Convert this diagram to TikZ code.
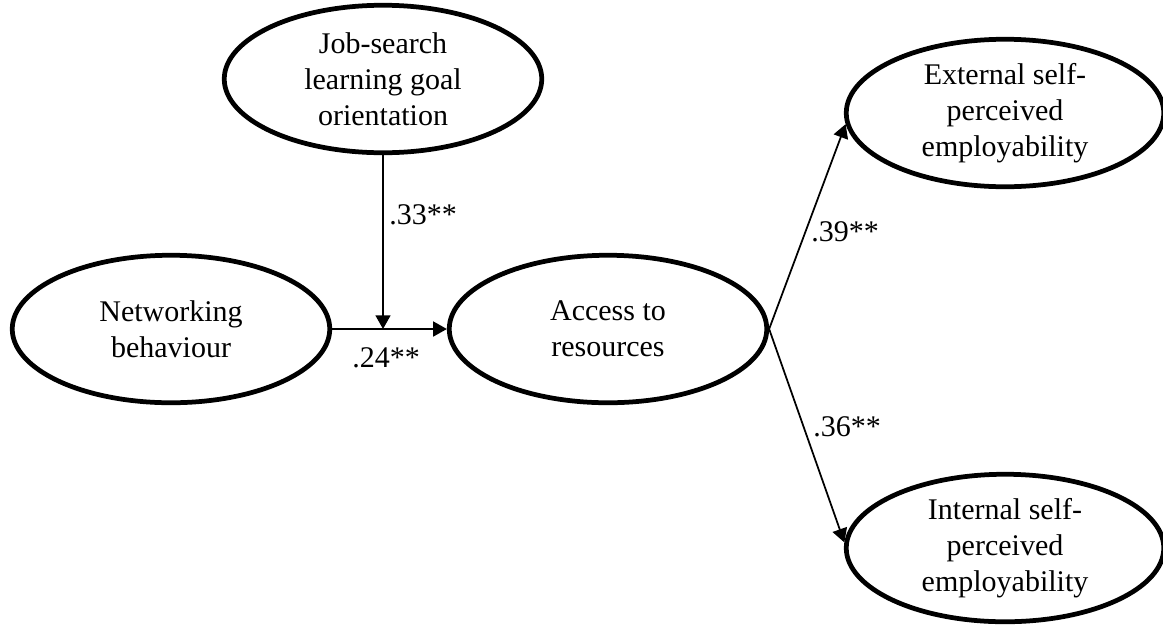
\documentclass[tikz,border=0pt]{standalone}
\usepackage{fontspec}
\setmainfont{Liberation Serif}
\usetikzlibrary{arrows.meta,positioning,shapes.geometric}

\begin{document}
\begin{tikzpicture}[
  x=0.4pt, y=-0.4pt,
  latent/.style={draw, ellipse, line width=1.9pt, align=center, inner sep=0pt, minimum width=127pt, minimum height=59pt, font=\fontsize{12pt}{14.4pt}\selectfont},
  coef/.style={font=\fontsize{12pt}{14.4pt}\selectfont},
  line/.style={-{Triangle[length=5.5pt,width=6pt]}, line width=0.7pt}
]
\useasboundingbox (0,0) rectangle (1163,627);
\node[latent] (goal) at (383,79) {Job-search\\learning goal\\orientation};
\node[latent] (net) at (171,329) {Networking\\behaviour};
\node[latent] (acc) at (608,329) {Access to\\resources};
\node[latent] (ext) at (1005,113) {External self-\\perceived\\employability};
\node[latent] (int) at (1005,548) {Internal self-\\perceived\\employability};
\coordinate (mod) at (goal.south |- net.east);
\draw[line] (goal.south) -- (mod);
\draw[line] (net) -- (acc);
\draw[line] (acc.east) -- (ext.184);
\draw[line] (acc.east) -- (int.178);
\node[coef] (b33) at (423,215) {.33**};
\node[coef] (b24) at (386,358) {.24**};
\node[coef] (b39) at (845,232) {.39**};
\node[coef] (b36) at (847,427) {.36**};
\end{tikzpicture}
\end{document}
